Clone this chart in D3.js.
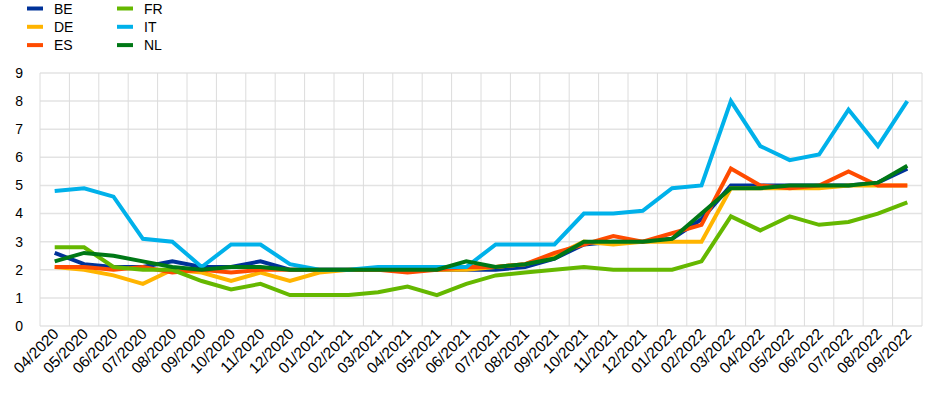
<!DOCTYPE html>
<html>
<head>
<meta charset="utf-8">
<script src="https://cdn.jsdelivr.net/npm/d3@7"></script>
<style>
  body { margin: 0; background: #fff; }
  text { font-family: "Liberation Sans", Arial, sans-serif; }
</style>
</head>
<body>
<svg id="mainsvg" width="948" height="394"></svg>
<script>
const months = ["04/2020","05/2020","06/2020","07/2020","08/2020","09/2020","10/2020","11/2020","12/2020",
  "01/2021","02/2021","03/2021","04/2021","05/2021","06/2021","07/2021","08/2021","09/2021","10/2021","11/2021","12/2021",
  "01/2022","02/2022","03/2022","04/2022","05/2022","06/2022","07/2022","08/2022","09/2022"]
const BE = [2.6,2.2,2.1,2.1,2.3,2.1,2.1,2.3,2.0,2.0,2.0,2.0,2.0,2.0,2.0,2.0,2.1,2.4,2.9,3.0,3.0,3.1,3.8,5.0,5.0,5.0,5.0,5.0,5.1,5.6]
const DE = [2.1,2.0,1.8,1.5,2.0,1.9,1.6,1.9,1.6,1.9,2.0,2.0,2.0,2.0,2.0,2.1,2.2,2.5,3.0,2.9,3.0,3.0,3.0,4.9,4.9,4.9,4.9,5.0,5.0,5.0]
const ES = [2.1,2.1,2.0,2.1,1.9,2.0,1.9,2.0,2.0,2.0,2.0,2.0,1.9,2.0,2.1,2.1,2.2,2.6,2.9,3.2,3.0,3.3,3.6,5.6,5.0,4.9,5.0,5.5,5.0,5.0]
const FR = [2.8,2.8,2.1,2.0,2.0,1.6,1.3,1.5,1.1,1.1,1.1,1.2,1.4,1.1,1.5,1.8,1.9,2.0,2.1,2.0,2.0,2.0,2.3,3.9,3.4,3.9,3.6,3.7,4.0,4.4]
const IT = [4.8,4.9,4.6,3.1,3.0,2.1,2.9,2.9,2.2,2.0,2.0,2.1,2.1,2.1,2.1,2.9,2.9,2.9,4.0,4.0,4.1,4.9,5.0,8.0,6.4,5.9,6.1,7.7,6.4,8.0]
const NL = [2.3,2.6,2.5,2.3,2.1,2.0,2.1,2.1,2.0,2.0,2.0,2.0,2.0,2.0,2.3,2.1,2.2,2.4,3.0,3.0,3.0,3.1,4.0,4.9,4.9,5.0,5.0,5.0,5.1,5.7]
const yTicks = [0,1,2,3,4,5,6,7,8,9]

const series = [
  { name: "BE", values: BE, color: "#003299" },
  { name: "DE", values: DE, color: "#ffb400" },
  { name: "ES", values: ES, color: "#ff4b00" },
  { name: "FR", values: FR, color: "#65b800" },
  { name: "IT", values: IT, color: "#00b1ea" },
  { name: "NL", values: NL, color: "#007816" },
]

const svg = d3.select('#mainsvg')
const margin = { top: 73, right: 26, bottom: 68, left: 40 }
const width = +svg.attr("width")
const height = +svg.attr("height")
const innerWidth = width - margin.left - margin.right
const innerHeight = height - margin.top - margin.bottom

const xScale = d3.scaleBand().domain(months).range([0, innerWidth])
const yScale = d3.scaleLinear().domain([0, 9]).range([innerHeight, 0])

const g = svg.append('g').attr("transform", `translate(${margin.left}, ${margin.top})`)

// grid
g.selectAll(".hgrid").data(yTicks).join("line")
  .attr("x1", 0).attr("x2", innerWidth)
  .attr("y1", d => yScale(d)).attr("y2", d => yScale(d))
  .attr("stroke", "#e3e3e3").attr("stroke-width", 1.5)
const vlines = months.map((m, i) => i).concat([months.length])
g.selectAll(".vgrid").data(vlines).join("line")
  .attr("x1", i => i * xScale.step()).attr("x2", i => i * xScale.step())
  .attr("y1", 0).attr("y2", innerHeight)
  .attr("stroke", "#dcdcdc").attr("stroke-width", 1)

// y axis labels
g.selectAll(".ylab").data(yTicks).join("text")
  .attr("x", -17).attr("y", d => yScale(d)).attr("dy", "0.35em")
  .attr("text-anchor", "end").attr("font-size", 14).attr("fill", "#000")
  .text(d => d)

// x axis labels
g.selectAll(".xlab").data(months).join("text")
  .attr("transform", d => `translate(${xScale(d) + xScale.bandwidth() / 2 + 5}, ${innerHeight + 9}) rotate(-45)`)
  .attr("text-anchor", "end").attr("font-size", 15.5).attr("fill", "#000")
  .text(d => d)

// lines
const line = d3.line()
  .x((d, i) => xScale(months[i]) + xScale.bandwidth() / 2)
  .y(d => yScale(d))
series.forEach(s => {
  g.append("path").datum(s.values)
    .attr("d", line)
    .attr("fill", "none")
    .attr("stroke", s.color)
    .attr("stroke-width", 4)
    .attr("stroke-linejoin", "miter")
})

// legend
const legend = svg.append("g")
series.forEach((s, i) => {
  const col = Math.floor(i / 3), row = i % 3
  const lx = 27 + col * 90, ly = 8.5 + row * 18.3
  legend.append("line").attr("x1", lx).attr("x2", lx + 16).attr("y1", ly).attr("y2", ly)
    .attr("stroke", s.color).attr("stroke-width", 4)
  legend.append("text").attr("x", lx + 27).attr("y", ly).attr("dy", "0.36em")
    .attr("font-size", 14).attr("fill", "#000").text(s.name)
})
</script>
</body>
</html>
